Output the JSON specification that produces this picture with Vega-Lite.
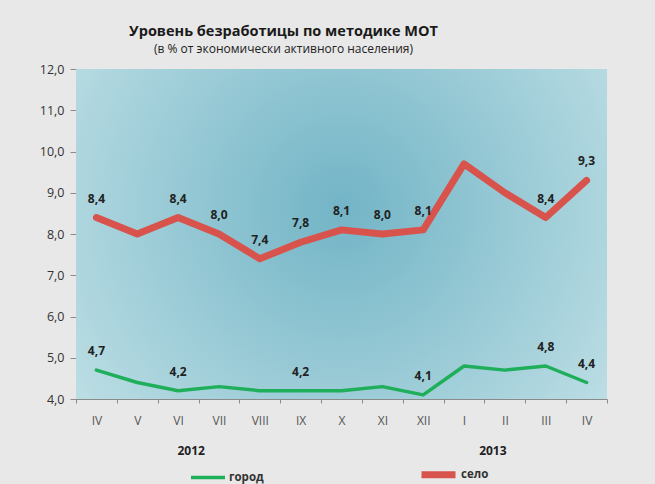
{
  "$schema": "https://vega.github.io/schema/vega-lite/v6.json",
  "width": 531,
  "height": 330,
  "autosize": {"type": "none"},
  "padding": {"left": 76, "top": 69, "right": 48, "bottom": 85},
  "background": "#e8e8e8",
  "title": {
    "text": "Уровень безработицы по методике МОТ",
    "subtitle": "(в % от экономически  активного населения)",
    "anchor": "middle",
    "dx": -58,
    "offset": 7,
    "font": "Open Sans",
    "fontSize": 14.5,
    "fontWeight": "bold",
    "color": "#1a1a1a",
    "subtitleFont": "Open Sans",
    "subtitleFontSize": 12,
    "subtitleColor": "#222222",
    "subtitlePadding": 5
  },
  "config": {
    "locale": {"number": {"decimal": ",", "thousands": " ", "grouping": [3], "currency": ["", " ₽"]}},
    "font": "Open Sans",
    "view": {"stroke": null}
  },
  "datasets": {
    "rates": [
      {"key": "IV 2012", "series": "село", "value": 8.4, "lab": true},
      {"key": "V 2012", "series": "село", "value": 8.0, "lab": false},
      {"key": "VI 2012", "series": "село", "value": 8.4, "lab": true},
      {"key": "VII 2012", "series": "село", "value": 8.0, "lab": true},
      {"key": "VIII 2012", "series": "село", "value": 7.4, "lab": true},
      {"key": "IX 2012", "series": "село", "value": 7.8, "lab": true},
      {"key": "X 2012", "series": "село", "value": 8.1, "lab": true},
      {"key": "XI 2012", "series": "село", "value": 8.0, "lab": true},
      {"key": "XII 2012", "series": "село", "value": 8.1, "lab": true},
      {"key": "I 2013", "series": "село", "value": 9.7, "lab": false},
      {"key": "II 2013", "series": "село", "value": 9.0, "lab": false},
      {"key": "III 2013", "series": "село", "value": 8.4, "lab": true},
      {"key": "IV 2013", "series": "село", "value": 9.3, "lab": true},
      {"key": "IV 2012", "series": "город", "value": 4.7, "lab": true},
      {"key": "V 2012", "series": "город", "value": 4.4, "lab": false},
      {"key": "VI 2012", "series": "город", "value": 4.2, "lab": true},
      {"key": "VII 2012", "series": "город", "value": 4.3, "lab": false},
      {"key": "VIII 2012", "series": "город", "value": 4.2, "lab": false},
      {"key": "IX 2012", "series": "город", "value": 4.2, "lab": true},
      {"key": "X 2012", "series": "город", "value": 4.2, "lab": false},
      {"key": "XI 2012", "series": "город", "value": 4.3, "lab": false},
      {"key": "XII 2012", "series": "город", "value": 4.1, "lab": true},
      {"key": "I 2013", "series": "город", "value": 4.8, "lab": false},
      {"key": "II 2013", "series": "город", "value": 4.7, "lab": false},
      {"key": "III 2013", "series": "город", "value": 4.8, "lab": true},
      {"key": "IV 2013", "series": "город", "value": 4.4, "lab": true}
    ],
    "years": [{"year": "2012"}, {"year": "2013"}]
  },
  "resolve": {"scale": {"x": "independent"}, "axis": {"x": "independent"}},
  "layer": [
    {
      "data": {"values": [{}]},
      "mark": {
        "type": "rect",
        "color": {
          "gradient": "radial",
          "x1": 0.5, "y1": 0.45, "r1": 0,
          "x2": 0.5, "y2": 0.45, "r2": 0.75,
          "stops": [
            {"offset": 0, "color": "#72b4c6"},
            {"offset": 0.55, "color": "#a3d0da"},
            {"offset": 1, "color": "#cde6eb"}
          ]
        }
      },
      "encoding": {}
    },
    {
      "data": {"name": "rates"},
      "encoding": {
        "x": {
          "field": "key",
          "type": "ordinal",
          "sort": null,
          "scale": {"type": "band", "paddingInner": 0, "paddingOuter": 0},
          "axis": {
            "title": null,
            "labelExpr": "split(datum.label, ' ')[0]",
            "labelAngle": 0,
            "tickBand": "extent",
            "tickSize": 4,
            "tickColor": "#8a8a8a",
            "domainColor": "#8a8a8a",
            "labelPadding": 12,
            "labelFontSize": 12,
            "labelColor": "#555555",
            "grid": false
          }
        },
        "y": {
          "field": "value",
          "type": "quantitative",
          "scale": {"domain": [4, 12], "nice": false, "zero": false},
          "axis": {
            "title": null,
            "values": [4, 5, 6, 7, 8, 9, 10, 11, 12],
            "format": ".1f",
            "grid": false,
            "tickSize": 6,
            "tickColor": "#8a8a8a",
            "domainColor": "#8a8a8a",
            "labelPadding": 6,
            "labelFontSize": 12.5,
            "labelColor": "#333333"
          }
        }
      },
      "layer": [
        {
          "mark": {"type": "line", "strokeCap": "round", "strokeJoin": "round"},
          "encoding": {
            "color": {
              "field": "series",
              "type": "nominal",
              "scale": {"domain": ["город", "село"], "range": ["#1fae5a", "#d9534d"]},
              "legend": {
                "title": null,
                "orient": "none",
                "direction": "horizontal",
                "legendX": 113,
                "legendY": 385,
                "symbolType": "stroke",
                "symbolSize": 1156,
                "labelFontSize": 11.5,
                "labelFontWeight": "bold",
                "labelColor": "#333333",
                "labelOffset": 2,
                "columnPadding": 143
              }
            },
            "strokeWidth": {
              "field": "series",
              "type": "nominal",
              "scale": {"domain": ["город", "село"], "range": [3.5, 7]},
              "legend": {
                "title": null,
                "orient": "none",
                "direction": "horizontal",
                "legendX": 113,
                "legendY": 385,
                "symbolType": "stroke",
                "symbolSize": 1156,
                "labelFontSize": 11.5,
                "labelFontWeight": "bold",
                "labelColor": "#333333",
                "labelOffset": 2,
                "columnPadding": 143
              }
            }
          }
        },
        {
          "transform": [{"filter": "datum.lab"}],
          "mark": {"type": "text", "dy": -19, "fontSize": 12, "fontWeight": "bold", "color": "#222222"},
          "encoding": {
            "text": {"field": "value", "type": "quantitative", "format": ".1f"}
          }
        }
      ]
    },
    {
      "data": {"name": "years"},
      "mark": {"type": "text", "text": ""},
      "encoding": {
        "x": {
          "field": "year",
          "type": "ordinal",
          "scale": {"type": "point", "padding": 0.38},
          "axis": {
            "title": null,
            "orient": "bottom",
            "domain": false,
            "ticks": false,
            "labelPadding": 46,
            "labelFontSize": 12,
            "labelFontWeight": "bold",
            "labelColor": "#222222",
            "labelAngle": 0,
            "grid": false
          }
        }
      }
    }
  ]
}
